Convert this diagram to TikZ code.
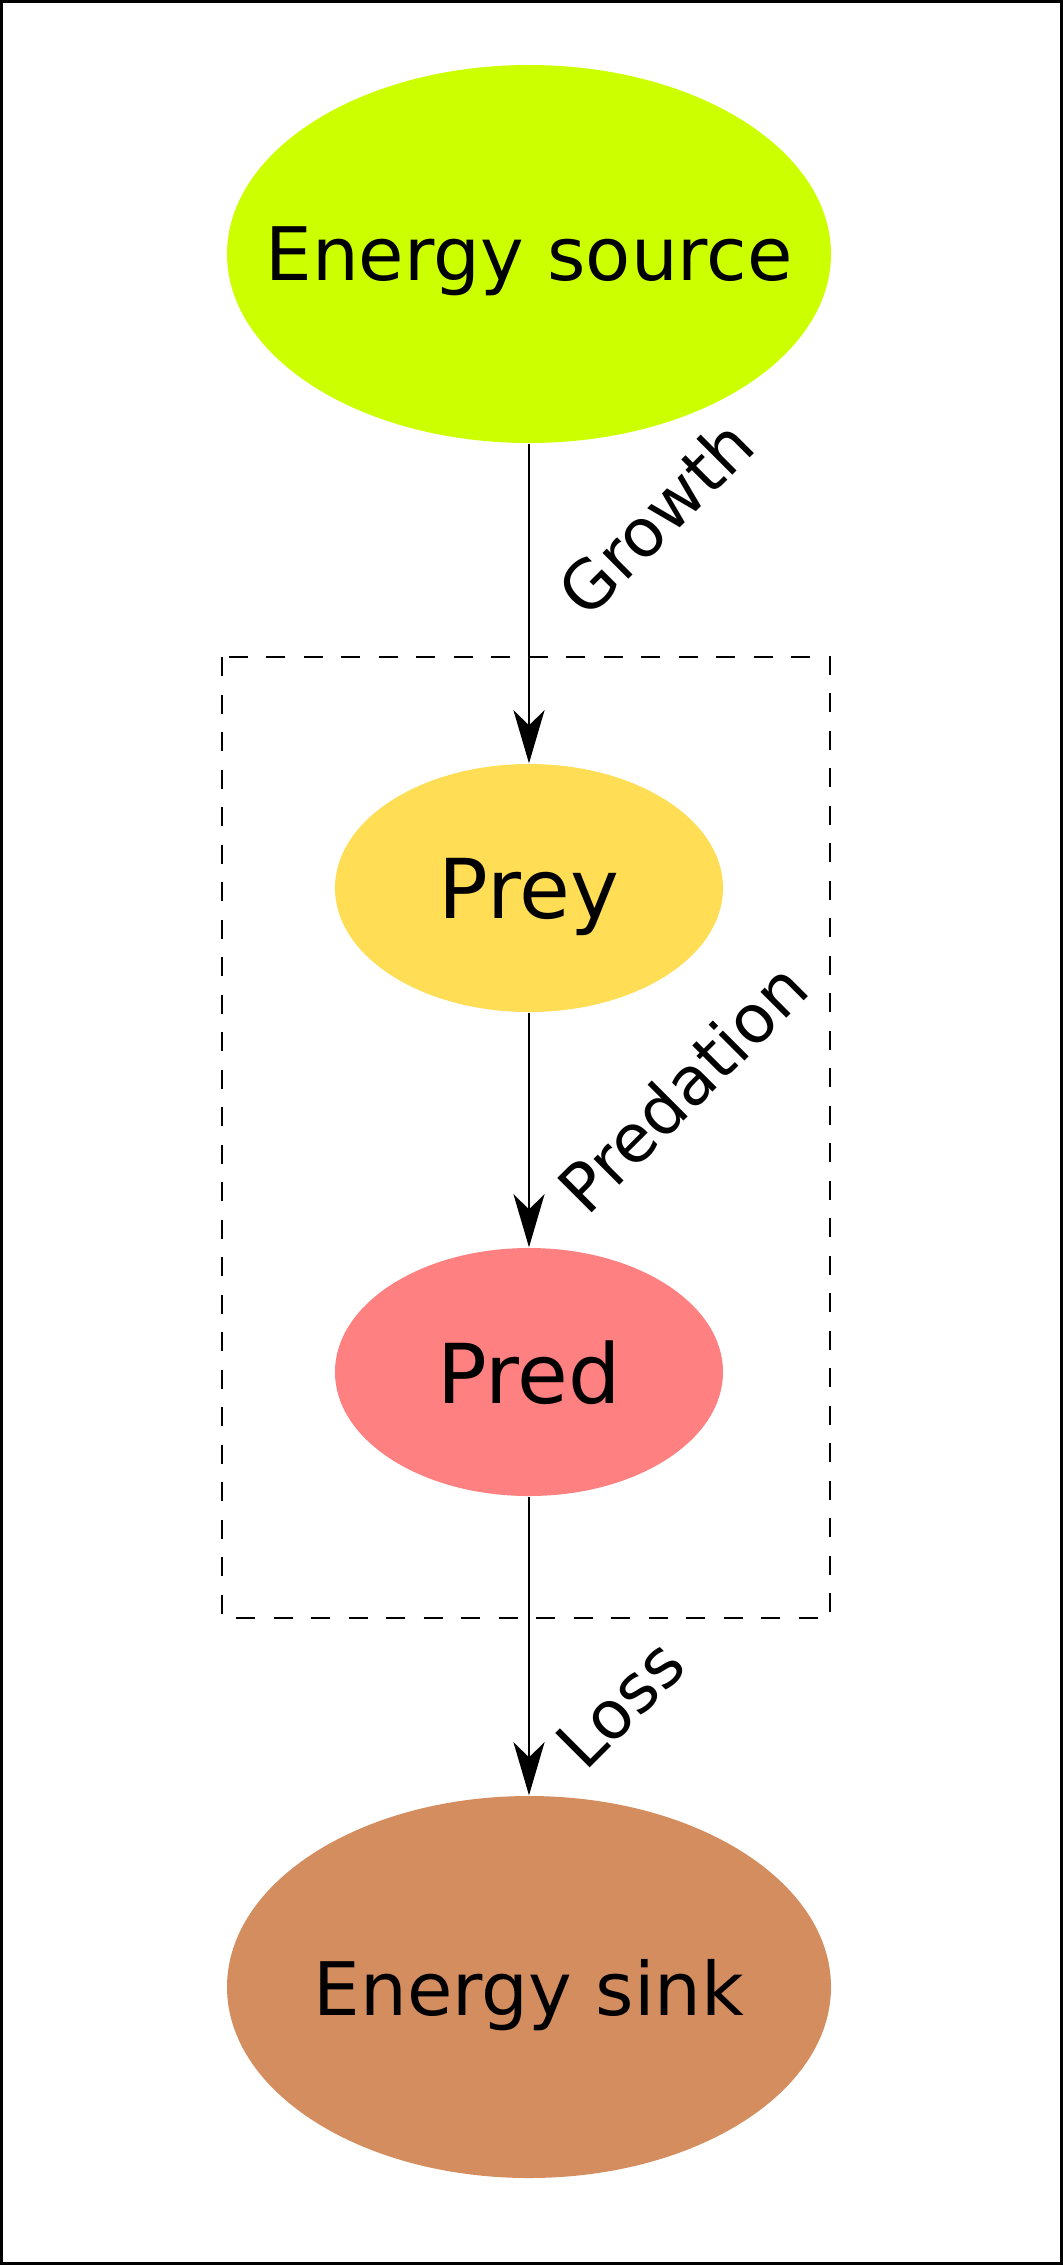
\documentclass[tikz,border=0pt]{standalone}
\usepackage{fontspec}
\setmainfont{DejaVu Sans}
\usetikzlibrary{shapes.geometric,arrows.meta}
\definecolor{sourcegreen}{HTML}{CCFF00}
\definecolor{preyyellow}{HTML}{FFDD55}
\definecolor{predred}{HTML}{FF8080}
\definecolor{sinkbrown}{HTML}{D38D5F}
\tikzset{
  pool/.style={ellipse, inner ysep=0pt, inner xsep=-1cm, text depth=0pt},
  bigpool/.style={pool, minimum width=6.04cm, font=\fontsize{21}{25}\selectfont},
  smallpool/.style={pool, minimum width=3.88cm, minimum height=2.48cm, font=\fontsize{23.5}{28}\selectfont},
  flow/.style={line width=0.8pt, -{Stealth[length=5.3mm, width=3.1mm, inset=1.5mm]}},
  flowlbl/.style={rotate=45, anchor=base west, inner sep=0pt, font=\fontsize{19}{23}\selectfont},
}
\begin{document}
\begin{tikzpicture}
			%%%%% START %%%%%
			
			\useasboundingbox (0, 0) rectangle (10.63, -22.65);
			\draw[line width=0.3mm] (0.015, -0.015) rectangle (10.615, -22.635);
			
			\draw[line width=0.8pt, dash pattern=on 1.9mm off 1.85mm] (2.22, -6.57) rectangle (8.30, -16.18);
			
			\node[bigpool, fill=sourcegreen, minimum height=3.78cm] (source) at (5.29, -2.54) {Energy source};
			\node[smallpool, fill=preyyellow] (prey) at (5.29, -8.88) {Prey};
			\node[smallpool, fill=predred] (pred) at (5.29, -13.72) {Pred};
			\node[bigpool, fill=sinkbrown, minimum height=3.82cm] (sink) at (5.29, -19.87) {Energy sink};
			
			\draw[flow] (source) -- (prey);
			\draw[flow] (prey) -- (pred);
			\draw[flow] (pred) -- (sink);
			
			\node[flowlbl] (growth) at (5.87, -6.21) {Growth};
			\node[flowlbl] (predation) at (5.87, -12.18) {Predation};
			\node[flowlbl] (loss) at (5.85, -17.73) {Loss};
			
			%%%%% END %%%%%
\end{tikzpicture}
\end{document}
